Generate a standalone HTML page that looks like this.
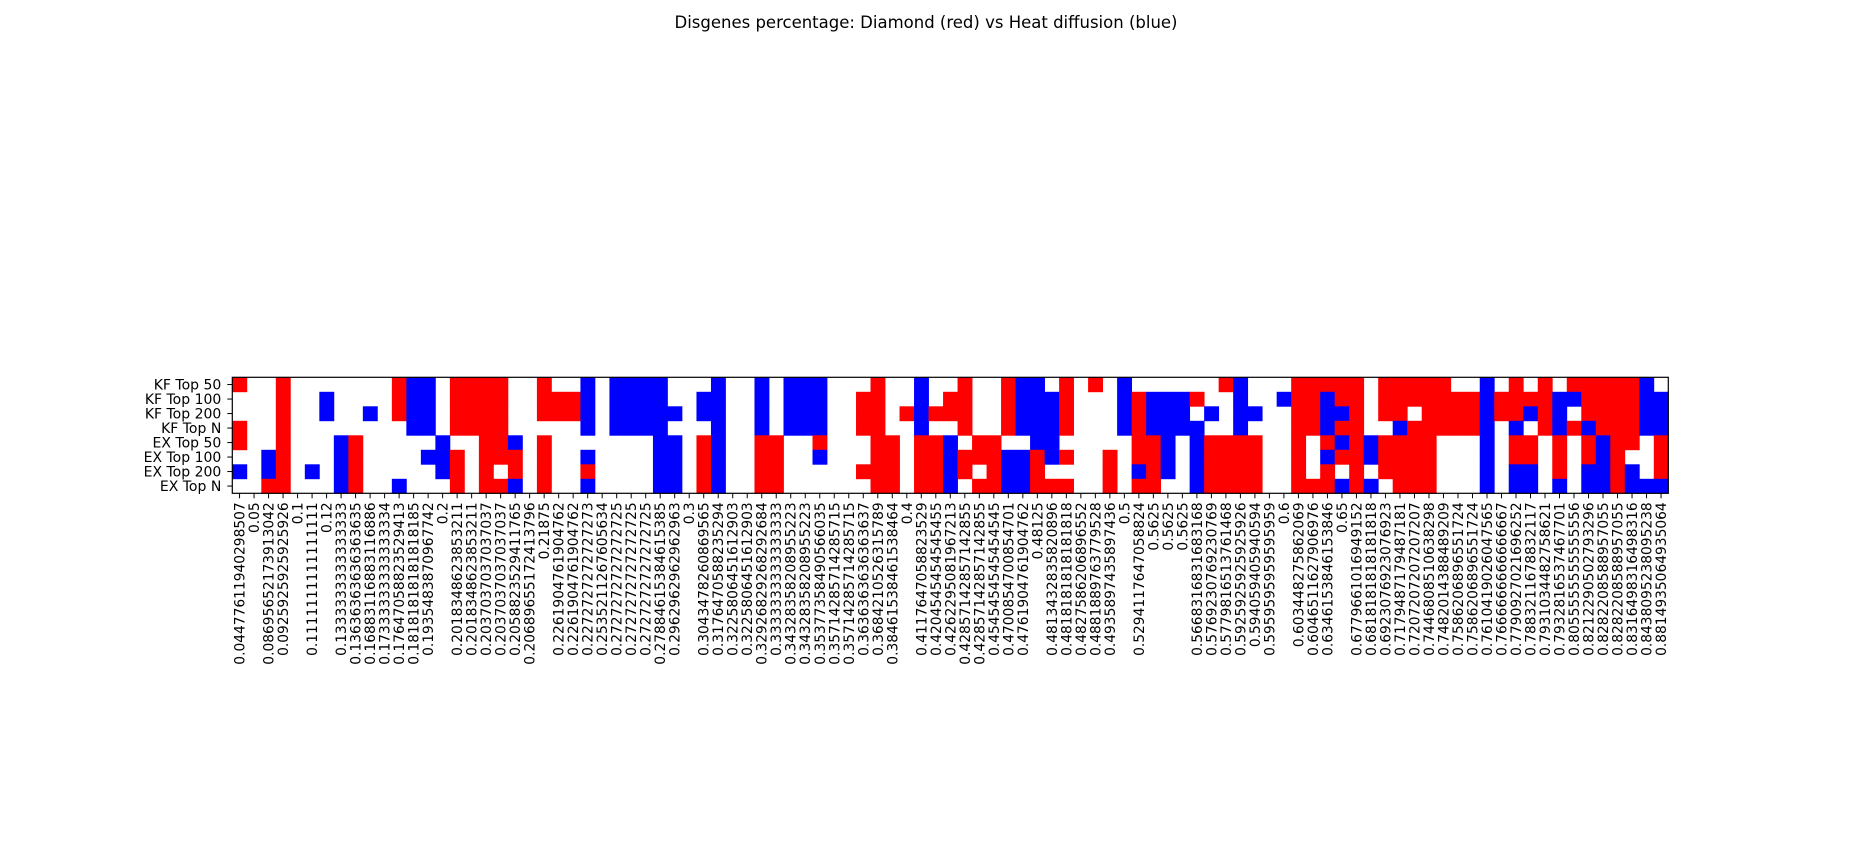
<!DOCTYPE html>
<html><head><meta charset="utf-8"><style>
html,body{margin:0;padding:0;background:#fff;}
svg{display:block;font-family:"DejaVu Sans","Liberation Sans",sans-serif;}
</style></head><body>
<svg id="chart" width="1853" height="861" viewBox="0 0 1853 861" xmlns="http://www.w3.org/2000/svg">
<rect width="1853" height="861" fill="#fff"/>
<text x="926" y="28" text-anchor="middle" font-size="16.5" fill="#000">Disgenes percentage: Diamond (red) vs Heat diffusion (blue)</text>
<g id="cells"></g>
<g id="yaxis"></g>
<g id="xaxis"></g>
<rect id="frame" fill="none" stroke="#000" stroke-width="1.2"/>
</svg>
<script>
const rowLabels = ["KF Top 50","KF Top 100","KF Top 200","KF Top N","EX Top 50","EX Top 100","EX Top 200","EX Top N"];
const colLabels = ["0.04477611940298507","0.05","0.08695652173913042","0.0925925925925926","0.1","0.1111111111111111","0.12","0.1333333333333333","0.13636363636363635","0.16883116883116886","0.17333333333333334","0.17647058823529413","0.18181818181818185","0.1935483870967742","0.2","0.2018348623853211","0.2018348623853211","0.2037037037037037","0.2037037037037037","0.2058823529411765","0.20689655172413796","0.21875","0.2261904761904762","0.2261904761904762","0.2272727272727273","0.2535211267605634","0.2727272727272725","0.2727272727272725","0.2727272727272725","0.27884615384615385","0.2962962962962963","0.3","0.3043478260869565","0.3176470588235294","0.3225806451612903","0.3225806451612903","0.32926829268292684","0.3333333333333333","0.34328358208955223","0.34328358208955223","0.35377358490566035","0.35714285714285715","0.35714285714285715","0.3636363636363637","0.3684210526315789","0.38461538461538464","0.4","0.4117647058823529","0.4204545454545455","0.4262295081967213","0.42857142857142855","0.42857142857142855","0.4545454545454545","0.4700854700854701","0.4761904761904762","0.48125","0.4813432835820896","0.4818181818181818","0.4827586206896552","0.4881889763779528","0.4935897435897436","0.5","0.5294117647058824","0.5625","0.5625","0.5625","0.5668316831683168","0.5769230769230769","0.5779816513761468","0.5925925925925926","0.594059405940594","0.5959595959595959","0.6","0.603448275862069","0.6046511627906976","0.6346153846153846","0.65","0.6779661016949152","0.6818181818181818","0.6923076923076923","0.7179487179487181","0.7207207207207207","0.7446808510638298","0.7482014388489209","0.7586206896551724","0.7586206896551724","0.7610419026047565","0.7666666666666667","0.7790927021696252","0.7883211678832117","0.7931034482758621","0.7932816537467701","0.8055555555555556","0.8212290502793296","0.8282208588957055","0.8282208588957055","0.8316498316498316","0.8438095238095238","0.8814935064935064"];
// one string per column, rows top->bottom; R = Diamond (red), B = Heat diffusion (blue), . = none
const cellValues = ["R..RR.B.","........",".....BBR","RRRRRRRR","........","......B.",".BB.....","....BBBB","....RRRR","..B.....","........","RRR....B","BBBB....","BBBB.B..","....BBB.","RRRR.RRR","RRRR....","RRRRRRRR","RRRRRR.R","....BRRB","........","RRR.RRRR",".RR.....",".RR.....","BBBB.BRB","........","BBBB....","BBBB....","BBBB....","BBBBBBBB","..B.BBBB","........",".BB.RRRR","BBBBBBBB","........","........","BBBBRRRR","....RRRR","BBBB....","BBBB....","BBBBRB..","........","........",".RRR..R.","RRRRRRRR","....RRRR","..R.....","BBBBRRRR","..R.RRRR",".RR.BBBB","RRRR.RR.","....RR.R","....RRRR","RRRR.BBB","BBBB.BBB","BBBBBRRR",".BBBBB.R","RRRR.R.R","........","R.......",".....RRR","BBBB....",".RRRRRBR",".BBBRRRR",".BBBBBB.",".BBB....",".R.BBBBB","..B.RRRR","R...RRRR","BBBBRRRR","..B.RRRR","........",".B......","RRRRRRRR","RRRR...R","RBBBRBRR","RRBRBR.B","RRRRRRRR","....BB.B","RRR.RRR.","RRRBRRRR","RR.RRRRR","RRRRRRRR","RRRR....",".RRR....",".RRR....","BBBBBBBB",".RR.....","RRRBRRBB",".RB.RRBB","RRRR....",".BBBRRRB","RB.R....","RRRBRRBB","RRRRBBBB","RRRRRRRR","RRRRR.BB","BBBB...B",".BBBRRRB"];

const NS="http://www.w3.org/2000/svg";
const plotLeft=232.3, plotTop=377.3, plotW=1436, plotH=116;
const nC=colLabels.length, nR=rowLabels.length;
const cw=plotW/nC, rh=plotH/nR;
const xPos=i=>plotLeft+i*cw;
const yPos=j=>plotTop+j*rh;
const colors={R:"#ff0000",B:"#0000ff"};
const cells=document.getElementById('cells');
cellValues.forEach((col,i)=>{
  for(let j=0;j<nR;j++){
    const v=col[j];
    if(!colors[v]) continue;
    const r=document.createElementNS(NS,'rect');
    r.setAttribute('x',xPos(i));r.setAttribute('y',yPos(j));
    r.setAttribute('width',cw+0.4);r.setAttribute('height',rh+0.4);
    r.setAttribute('fill',colors[v]);
    
    
    cells.appendChild(r);
  }
});
const fr=document.getElementById('frame');
fr.setAttribute('x',plotLeft);fr.setAttribute('y',plotTop);fr.setAttribute('width',plotW);fr.setAttribute('height',plotH);
const ya=document.getElementById('yaxis');
rowLabels.forEach((lab,j)=>{
  const cy=yPos(j)+rh/2;
  const t=document.createElementNS(NS,'line');
  t.setAttribute('x1',plotLeft-5);t.setAttribute('x2',plotLeft);t.setAttribute('y1',cy);t.setAttribute('y2',cy);
  t.setAttribute('stroke','#000');t.setAttribute('stroke-width','1');
  
  
  ya.appendChild(t);
  const tx=document.createElementNS(NS,'text');
  tx.setAttribute('x',plotLeft-11);tx.setAttribute('y',cy+5);
  tx.setAttribute('text-anchor','end');tx.setAttribute('font-size','14');
  tx.textContent=lab;
  
  
  ya.appendChild(tx);
});
const xa=document.getElementById('xaxis');
colLabels.forEach((lab,i)=>{
  const cx=xPos(i)+cw/2;
  const t=document.createElementNS(NS,'line');
  t.setAttribute('x1',cx);t.setAttribute('x2',cx);t.setAttribute('y1',plotTop+plotH);t.setAttribute('y2',plotTop+plotH+5);
  t.setAttribute('stroke','#000');t.setAttribute('stroke-width','1');
  
  
  xa.appendChild(t);
  const tx=document.createElementNS(NS,'text');
  const ty=plotTop+plotH+9;
  tx.setAttribute('transform','translate('+(cx+5)+','+ty+') rotate(-90)');
  tx.setAttribute('text-anchor','end');tx.setAttribute('font-size','13.8');
  tx.textContent=lab;
  
  
  xa.appendChild(tx);
});
</script>
</body></html>
